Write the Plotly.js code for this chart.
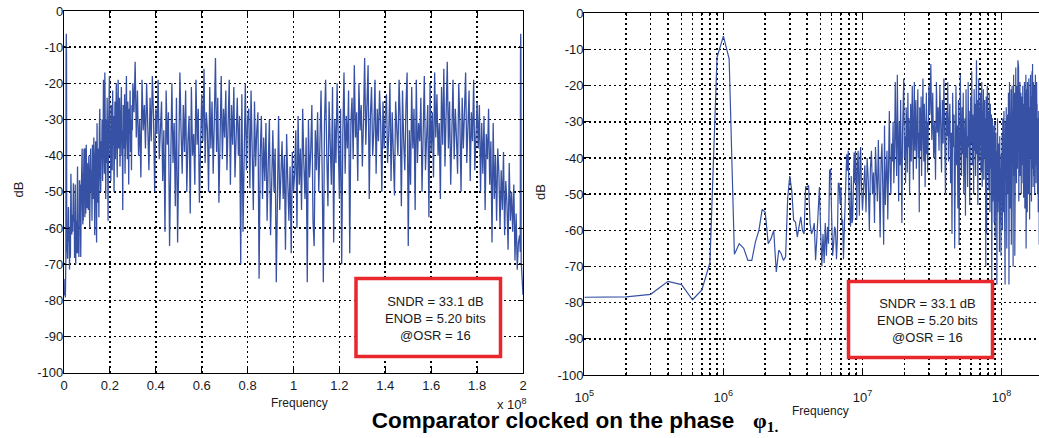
<!DOCTYPE html>
<html>
<head>
<meta charset="utf-8">
<script src="https://cdn.plot.ly/plotly-3.0.1.min.js"></script>
<style>html,body{margin:0;padding:0;background:#fff}#chart{width:1039px;height:438px}</style>
</head>
<body>
<div id="chart"></div>
<script>
// Spectrum (dB). Bins every 0.1 MHz from 0 to 10 MHz
const dbLow = [
  -78.5,-78.5,-78.4,-77.7,-74.1,-75,-79.2,-76.5,-69,-12.2,
  -6.3,-12.6,-66.6,-63.7,-65,-68.3,-68.3,-63.2,-60,-54.2,
  -55,-63.7,-62.3,-60,-71.5,-65.5,-66.4,-68.3,-67.3,-51,
  -45,-49,-57.2,-57.7,-61.8,-59,-56.3,-60,-61,-48,
  -48,-47.6,-58.2,-61,-60,-58,-68.3,-62,-52.7,-48,
  -60,-70,-61,-69,-58,-67,-59,-63.7,-43.5,-43,
  -56,-67,-63.7,-59,-60,-68,-62,-47,-47,-52.7,
  -48,-58,-57,-68,-60,-51,-44.4,-39,-43.5,-38,
  -51,-57,-59,-45,-58,-57,-43.5,-38.5,-47,-38,
  -44.4,-57,-41.6,-38,-47,-56,-40,-37,-46,-52.7,
  -54.5
];
// Bins every 0.2 MHz from 10.2 to 30 MHz
const dbMid = [
  -48,-42,-55,-40,-46,-60,-43,-38,-50,-44,
  -58,-37,-45,-52,-35,-48,-62,-41,-36,-49,
  -64,-31,-53,-45,-38,-57,-33,-27,-44,-50,
  -36,-41,-30,-47,-39,-19,-35,-45,-17,-38,
  -52,-30,-42,-24,-36,-58,-33,-28,-18,-40,
  -34,-47,-26,-31,-44,-22,-37,-29,-50,-33,
  -25,-41,-30,-20,-36,-46,-27,-19,-38,-31,
  -24,-43,-29,-35,-21,-40,-33,-55,-26,-30,
  -38,-23,-45,-32,-28,-18,-36,-41,-25,-31,
  -48,-27,-34,-22,-39,-30,-44,-26,-33,-20
];
// Bins every 0.5 MHz from 30.5 to 198 MHz
const dbHigh = [
  -28,-14,-35,-22,-40,-30,-46,-19,-33,-26,
  -38,-20,-31,-44,-24,-36,-18,-29,-50,-27,
  -34,-19,-41,-30,-25,-47,-33,-61,-22,-37,
  -28,-65,-35,-20,-42,-31,-54,-24,-64,-38,
  -17,-33,-45,-26,-39,-22,-50,-36,-29,-56,
  -21,-40,-34,-48,-19,-37,-27,-53,-31,-23,
  -36,-16,-42,-28,-33,-50,-21,-38,-25,-45,
  -30,-13,-39,-24,-53,-32,-18,-41,-27,-35,
  -22,-44,-31,-19,-48,-26,-37,-21,-46,-33,
  -24,-40,-29,-70,-23,-61,-35,-20,-44,-30,
  -27,-49,-22,-38,-55,-25,-43,-33,-28,-74,
  -40,-29,-52,-35,-47,-31,-58,-42,-30,-62,
  -45,-33,-50,-38,-75,-41,-29,-55,-44,-36,
  -52,-40,-66,-34,-47,-58,-43,-67,-39,-50,
  -45,-33,-60,-29,-48,-38,-55,-27,-42,-52,
  -35,-75,-30,-46,-39,-26,-58,-65,-33,-44,
  -28,-50,-37,-22,-45,-75,-31,-19,-40,-54,
  -25,-35,-48,-21,-64,-30,-42,-20,-38,-52,
  -27,-70,-34,-17,-45,-29,-38,-22,-67,-31,
  -24,-41,-15,-35,-28,-47,-20,-33,-26,-43,
  -30,-13,-37,-24,-15,-52,-29,-21,-40,-33,
  -19,-45,-27,-36,-22,-31,-50,-25,-38,-29,
  -23,-42,-34,-20,-47,-28,-37,-51,-25,-33,
  -40,-19,-30,-54,-22,-36,-44,-26,-17,-65,
  -33,-48,-21,-38,-27,-55,-19,-42,-31,-36,
  -24,-50,-29,-18,-44,-34,-26,-57,-20,-39,
  -28,-46,-17,-35,-23,-40,-31,-52,-21,-37,
  -16,-43,-29,-14,-38,-25,-48,-33,-19,-41,
  -27,-35,-45,-20,-31,-50,-24,-38,-29,-17,
  -42,-33,-22,-47,-28,-36,-19,-44,-30,-25,
  -38,-26,-50,-31,-45,-29,-55,-34,-41,-27,
  -48,-36,-64,-31,-52,-40,-58,-38,-45,-60,
  -44,-55,-39,-62,-47,-53,-66,-42,-58,-50,
  -61,-48,-69,-56,-71.5,-64
];
// Last bins (MHz) around the image tone
const tailMHz = [198.5,198.8,198.9,199.0,199.1,199.2,199.5,199.8,200.0];
const dbTail = [-62,-66.6,-12.6,-6.3,-12.2,-69,-75,-77.7,-78.5];

const xTickVals = [0,0.2,0.4,0.6,0.8,1,1.2,1.4,1.6,1.8,2];          // x 1e8
const xTickText = ['0','0.2','0.4','0.6','0.8','1','1.2','1.4','1.6','1.8','2'];
const yTickVals = [0,-10,-20,-30,-40,-50,-60,-70,-80,-90,-100];
const yTickText = ['0','-10','-20','-30','-40','-50','-60','-70','-80','-90','-100'];
const logDecades = [5,6,7,8];
const boxLines = ['SNDR = 33.1 dB','ENOB = 5.20 bits','@OSR = 16'];

// ---- build frequency axis from bin spacing ----
const freq = [], db = [];
dbLow.forEach((v,i)=>{ freq.push(i*1e5); db.push(v); });
dbMid.forEach((v,i)=>{ freq.push(1.02e7 + i*2e5); db.push(v); });
dbHigh.forEach((v,i)=>{ freq.push(3.05e7 + i*5e5); db.push(v); });
tailMHz.forEach((m,i)=>{ freq.push(m*1e6); db.push(dbTail[i]); });

const W = 1039, H = 438;
const px = x => x / W, py = y => 1 - y / H;

const logMajor = [], logMajorText = [], logMinor = [];
logDecades.forEach(d => {
  logMajor.push(Math.pow(10, d));
  logMajorText.push('10<sup>' + d + '</sup>');
  for (let m = 2; m <= 9; m++) logMinor.push(m * Math.pow(10, d));
});

const lineColor = '#3752a4';
const fontFam = 'Liberation Sans, Arial, sans-serif';
const tickFont = {family: fontFam, size: 13, color: '#1a1a1a'};
const gridStyle = {showgrid: true, gridcolor: '#000', gridwidth: 1.6, griddash: '2px,3px'};
const axisCommon = Object.assign({
  ticks: 'inside', ticklen: 5, tickwidth: 1, tickcolor: '#000',
  showline: true, linecolor: '#000', linewidth: 1.2,
  zeroline: false, automargin: false, tickfont: tickFont, fixedrange: true
}, gridStyle);

const traces = [
  {x: freq, y: db, type: 'scatter', mode: 'lines', xaxis: 'x', yaxis: 'y',
   line: {color: lineColor, width: 1.3}, hoverinfo: 'skip'},
  {x: freq.slice(1), y: db.slice(1), type: 'scatter', mode: 'lines', xaxis: 'x2', yaxis: 'y2',
   line: {color: lineColor, width: 1.2}, hoverinfo: 'skip'}
];

const layout = {
  width: W, height: H,
  margin: {l: 0, r: 0, t: 0, b: 0},
  paper_bgcolor: '#fff', plot_bgcolor: '#fff',
  showlegend: false, hovermode: false,
  title: {
    text: '<b>Comparator clocked on the phase</b>&nbsp;&nbsp;&nbsp;<span style="font-family:Liberation Serif;font-size:22px"><b>φ<sub>1.</sub></b></span>',
    font: {family: fontFam, size: 22.5, color: '#000'},
    x: px(575), xanchor: 'center', xref: 'paper',
    y: py(420), yanchor: 'middle', yref: 'paper'
  },
  xaxis: Object.assign({}, axisCommon, {
    domain: [px(64), px(523)], range: [0, 2e8], anchor: 'y', mirror: 'ticks',
    tickmode: 'array', tickvals: xTickVals.map(v => v * 1e8), ticktext: xTickText
  }),
  yaxis: Object.assign({}, axisCommon, {
    domain: [py(372.7), py(11)], range: [-100, 0], anchor: 'x', mirror: 'ticks',
    tickmode: 'array', tickvals: yTickVals, ticktext: yTickText, ticklabelstandoff: -3
  }),
  xaxis2: Object.assign({}, axisCommon, {
    type: 'log', domain: [px(584.3), 1], range: [5, 8.269], anchor: 'y2', mirror: 'ticks',
    tickmode: 'array', tickvals: logMajor, ticktext: logMajorText, ticklabelstandoff: 10,
    minor: {tickmode: 'array', tickvals: logMinor, ticks: 'inside', ticklen: 3, tickcolor: '#000',
            showgrid: true, gridcolor: '#000', gridwidth: 1.6, griddash: '2px,3px'}
  }),
  yaxis2: Object.assign({}, axisCommon, {
    domain: [py(375), py(13.3)], range: [-100, 0], anchor: 'x2', mirror: false,
    tickmode: 'array', tickvals: yTickVals, ticktext: yTickText, ticklabelstandoff: -3
  }),
  shapes: [
    {type: 'rect', xref: 'paper', yref: 'paper', x0: px(356), x1: px(500.5), y0: py(356.5), y1: py(278.5),
     line: {color: '#e8282c', width: 3.5}, fillcolor: '#fff', layer: 'above'},
    {type: 'rect', xref: 'paper', yref: 'paper', x0: px(848.5), x1: px(992.5), y0: py(357.5), y1: py(281.5),
     line: {color: '#e8282c', width: 3.5}, fillcolor: '#fff', layer: 'above'}
  ],
  annotations: [
    {text: boxLines.join('<br>'), xref: 'paper', yref: 'paper', x: px(435), y: py(318),
     xanchor: 'center', yanchor: 'middle', showarrow: false, align: 'center',
     font: {family: fontFam, size: 13, color: '#1a1a1a'}},
    {text: boxLines.join('<br>'), xref: 'paper', yref: 'paper', x: px(927), y: py(320),
     xanchor: 'center', yanchor: 'middle', showarrow: false, align: 'center',
     font: {family: fontFam, size: 13, color: '#1a1a1a'}},
    {text: 'Frequency', xref: 'paper', yref: 'paper', x: px(299), y: py(403),
     xanchor: 'center', yanchor: 'middle', showarrow: false,
     font: {family: fontFam, size: 12, color: '#1a1a1a'}},
    {text: 'Frequency', xref: 'paper', yref: 'paper', x: px(820), y: py(410.5),
     xanchor: 'center', yanchor: 'middle', showarrow: false,
     font: {family: fontFam, size: 12, color: '#1a1a1a'}},
    {text: 'dB', xref: 'paper', yref: 'paper', x: px(17.5), y: py(190), textangle: -90,
     xanchor: 'center', yanchor: 'middle', showarrow: false,
     font: {family: fontFam, size: 13, color: '#1a1a1a'}},
    {text: 'dB', xref: 'paper', yref: 'paper', x: px(540), y: py(192), textangle: -90,
     xanchor: 'center', yanchor: 'middle', showarrow: false,
     font: {family: fontFam, size: 13, color: '#1a1a1a'}},
    {text: 'x 10<sup>8</sup>', xref: 'paper', yref: 'paper', x: px(495), y: py(404),
     xanchor: 'left', yanchor: 'middle', showarrow: false,
     font: {family: fontFam, size: 13, color: '#1a1a1a'}}
  ]
};

Plotly.newPlot('chart', traces, layout, {staticPlot: true, displayModeBar: false});
</script>
</body>
</html>
